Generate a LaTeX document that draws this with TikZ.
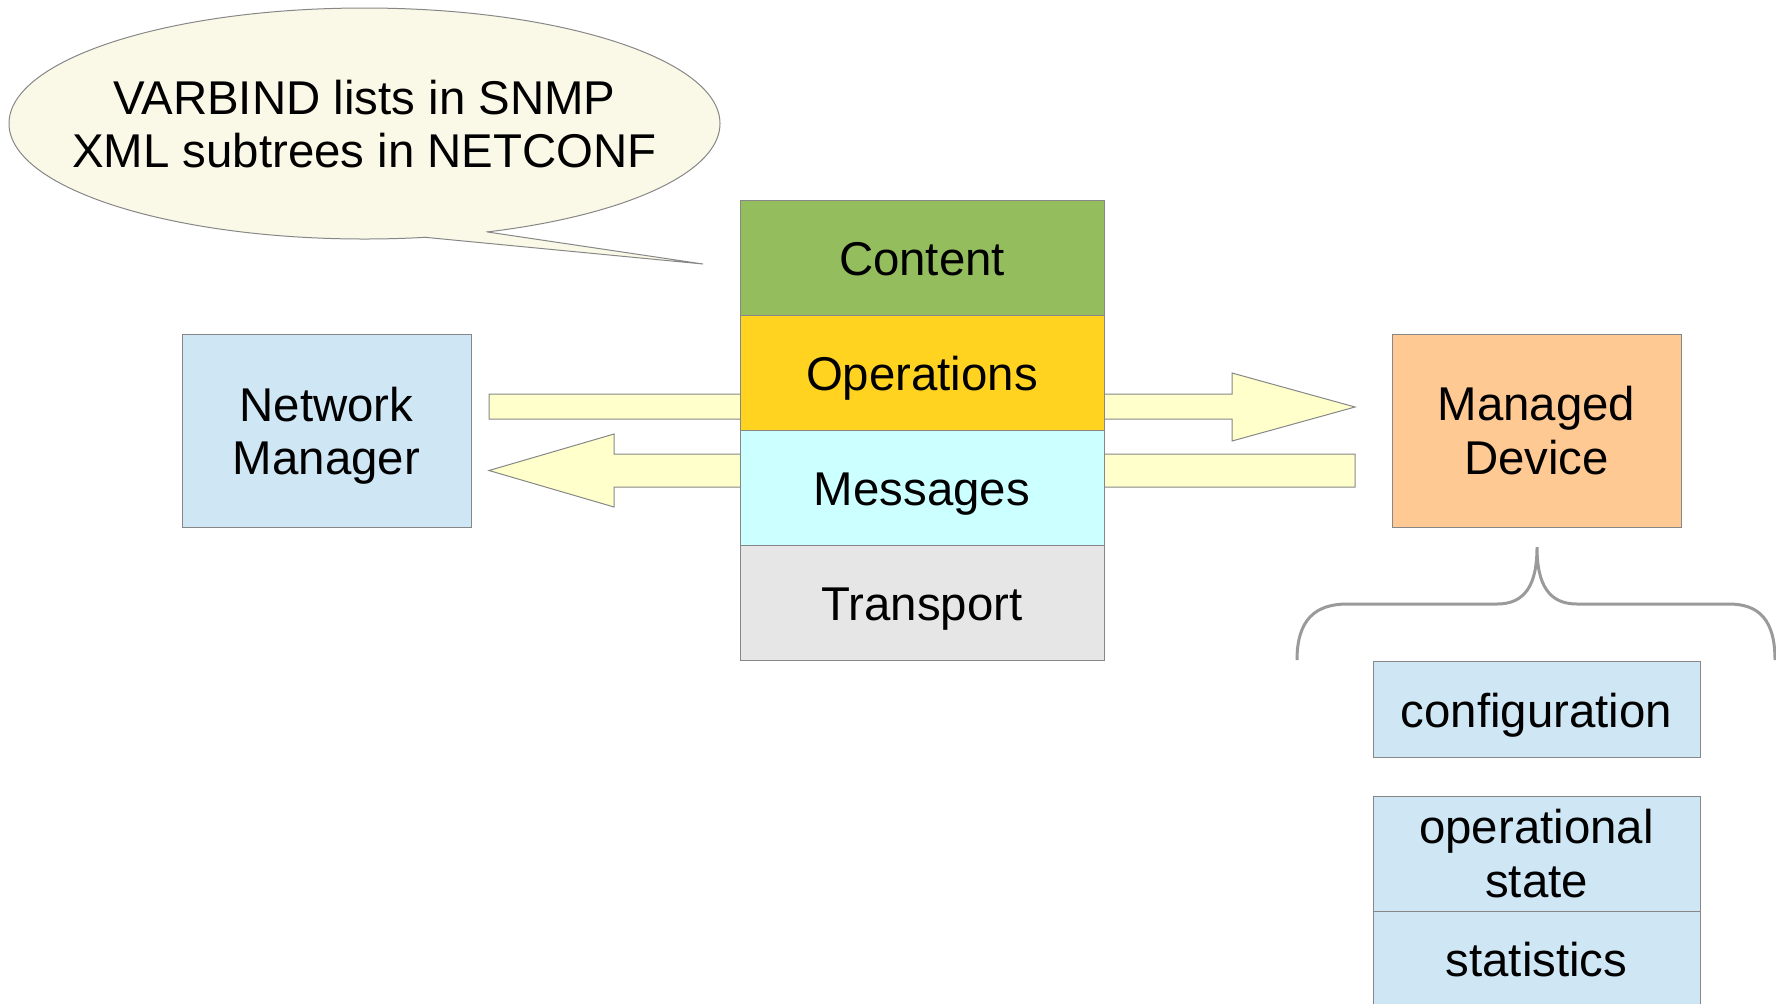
\documentclass[tikz,border=0pt]{standalone}
\usepackage{fontspec}
\setmainfont{Liberation Sans}

\definecolor{lineGray}{HTML}{878787}
\definecolor{braceGray}{HTML}{9A9A9A}
\definecolor{bubbleFill}{HTML}{FAF9E8}
\definecolor{arrowFill}{HTML}{FFFFCC}
\definecolor{contentGreen}{HTML}{94BD5E}
\definecolor{opsYellow}{HTML}{FFD320}
\definecolor{msgCyan}{HTML}{CCFFFF}
\definecolor{transGray}{HTML}{E6E6E6}
\definecolor{boxBlue}{HTML}{CFE6F4}
\definecolor{deviceOrange}{HTML}{FFC994}

\newcommand\diagfont{\fontsize{23.7pt}{26.6pt}\selectfont}

\tikzset{
	box/.style={draw=lineGray, line width=0.5pt, inner sep=0pt, align=center, font=\diagfont},
	oneline/.style={text height=21.5pt, text depth=3.5pt},
	blockarrow/.style={draw=lineGray, line width=0.5pt, fill=arrowFill},
	brace/.style={draw=braceGray, line width=1.5pt},
}

\begin{document}
\begin{tikzpicture}[x=0.5pt,y=-0.5pt]
		\def\stackx{922}
		\def\layerh{115}
		\useasboundingbox (0,0) rectangle (1776,1003);
		\clip (0,0) rectangle (1776,1003);

		% speech bubble
		\draw[lineGray, line width=0.5pt, fill=bubbleFill] (364.5,123.5) ellipse [x radius=355.5, y radius=115.5];
		\fill[bubbleFill] (425,237.3) -- (703,264) -- (487,231.9) -- (456,222) -- cycle;
		\draw[lineGray, line width=0.5pt] (425,237.3) -- (703,264) -- (487,231.9);
		\node[font=\diagfont, align=center] (varbind) at (364.5,124) {VARBIND lists in SNMP\\XML subtrees in NETCONF};

		% block arrows, behind the stack
		\draw[blockarrow] (489,394) -- (1232,394) -- (1232,373) -- (1355,407)
			-- (1232,441) -- (1232,419) -- (489,419) -- cycle;
		\draw[blockarrow] (1355,454) -- (614,454) -- (614,434) -- (489,470.5)
			-- (614,507) -- (614,487) -- (1355,487) -- cycle;

		% protocol stack
		\foreach \name/\label/\col [count=\i] in {content/Content/contentGreen, operations/Operations/opsYellow, messages/Messages/msgCyan, transport/Transport/transGray}
		{
			\node[box, oneline, fill=\col, minimum width=182pt, minimum height=57.5pt] (\name) at (\stackx, 200+\layerh*\i-\layerh/2) {\label};
		}

		\node[box, text depth=0pt, fill=boxBlue, minimum width=144.5pt, minimum height=96.5pt] (manager) at (326.5,430.5) {Network\\Manager};
		\node[box, fill=deviceOrange, minimum width=144.5pt, minimum height=96.5pt] (device) at (1536.5,430.5) {Managed\\Device};

		% data kept on the device
		\coordinate (bracetip) at (1537,547);
		\draw[brace] (1297,660) .. controls (1297,620) and (1315,604) .. (1347,604) -- (1497,604)
			.. controls (1525,604) and (1537,585) .. (bracetip)
			.. controls (1537,585) and (1549,604) .. (1577,604) -- (1729,604)
			.. controls (1759,604) and (1775,620) .. (1775,660);

		\node[box, oneline, fill=boxBlue, minimum width=163.5pt, minimum height=48pt] (config) at (1536.5,709) {configuration};
		\node[box, fill=boxBlue, minimum width=163.5pt, minimum height=57.5pt] (opstate) at (1536.5,853.5) {operational\\state};
		\node[box, oneline, fill=boxBlue, minimum width=163.5pt, minimum height=47.5pt] (stats) at (1536.5,958.5) {statistics};
	\end{tikzpicture}
\end{document}
